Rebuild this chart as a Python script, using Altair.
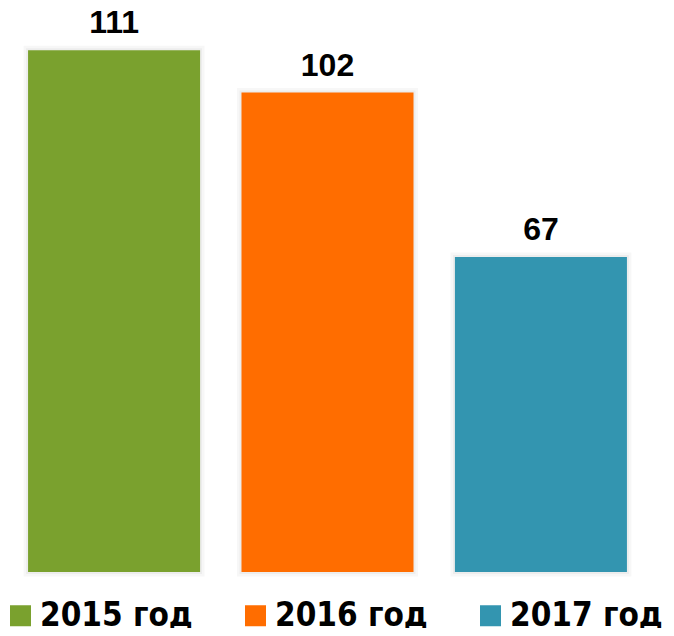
import altair as alt
import pandas as pd

years = ["2015 год", "2016 год", "2017 год"]
values = [111, 102, 67]
colors = ["#7AA12E", "#FF6D00", "#3395B0"]

df = pd.DataFrame({"year": years, "value": values})

xenc = alt.X("year:N", sort=years, axis=None,
             scale=alt.Scale(paddingInner=0.194, paddingOuter=0.094))
yenc = alt.Y("value:Q", axis=None, scale=alt.Scale(domain=[0, 120]))

shadow1 = alt.Chart(df).mark_bar(
    fillOpacity=0, stroke="#000000", strokeOpacity=0.03, strokeWidth=9
).encode(x=xenc, y=yenc)
shadow2 = alt.Chart(df).mark_bar(
    fillOpacity=0, stroke="#000000", strokeOpacity=0.04, strokeWidth=4
).encode(x=xenc, y=yenc)

bars = alt.Chart(df).mark_bar(opacity=1).encode(
    x=xenc, y=yenc,
    color=alt.Color("year:N", sort=years,
                    scale=alt.Scale(domain=years, range=colors),
                    legend=alt.Legend(
                        title=None, orient="none", legendX=-4, legendY=591,
                        direction="horizontal",
                        symbolType="square",
                        symbolSize=441, symbolStrokeWidth=0, symbolOpacity=1,
                        labelFont="DejaVu Sans Condensed",
                        labelFontSize=33, labelFontWeight="bold",
                        labelColor="#000000", labelOffset=3,
                        columnPadding=46, padding=0, labelLimit=400)),
)

labels = alt.Chart(df).mark_text(
    dy=-17, baseline="alphabetic", font="Liberation Sans",
    fontWeight="bold", fontSize=32, color="#000000"
).encode(x=xenc, y=yenc, text="value:Q")

chart = (shadow1 + shadow2 + bars + labels).properties(
    width=639, height=564,
    padding={"left": 0, "top": 0, "right": 19, "bottom": 56},
    autosize=alt.AutoSizeParams(type="none"),
).configure_view(stroke=None)

chart.save("out.html", embed_options={"renderer": "svg", "actions": False})
